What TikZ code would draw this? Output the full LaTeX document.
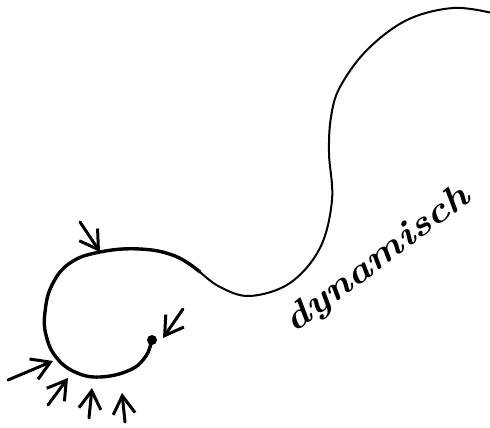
\documentclass[tikz,border=0pt]{standalone}
\usetikzlibrary{arrows.meta}
\begin{document}
\begin{tikzpicture}[x=1pt,y=-1pt,
  curve/.style={line width=2pt, line cap=round, line join=round},
  loopcurve/.style={line width=3.4pt, line cap=round, line join=round},
  force/.style={line width=3pt, line cap=round, -{Straight Barb[length=18pt,width=22pt,line width=3pt]}},
  word/.style={font=\bfseries\itshape\fontsize{36}{36}\selectfont, rotate=37, xscale=1.16, inner sep=0pt}]
\useasboundingbox (0,0) rectangle (490,428);
% loop part
\draw[loopcurve] plot[smooth, tension=0.7] coordinates {(151,342) (146,356) (130,370) (100,377) (75,372) (56,357) (46,335) (45,312) (52,285) (70,263) (100,252) (140,249) (175,256) (200,272)};
% long tail
\draw[curve] plot[smooth, tension=0.6] coordinates {(200,272) (220,287) (250,296) (290,283) (320,248) (332,200) (329,153) (331,117) (340,87) (367,50) (407,20) (453,8) (492,13)};
% dot
\fill (152,340) circle (5);
% arrows
\coordinate (a1s) at (80,222);  \coordinate (a1e) at (100,252);
\coordinate (a2s) at (183,309); \coordinate (a2e) at (163,338);
\coordinate (a3s) at (8,380);   \coordinate (a3e) at (53,361);
\coordinate (a4s) at (48,405);  \coordinate (a4e) at (68,378);
\coordinate (a5s) at (89,418);  \coordinate (a5e) at (92,388);
\coordinate (a6s) at (125,422); \coordinate (a6e) at (122,393);
\draw[force] (a1s) -- (a1e);
\draw[force] (a2s) -- (a2e);
\draw[force] (a3s) -- (a3e);
\draw[force] (a4s) -- (a4e);
\draw[force] (a5s) -- (a5e);
\draw[force] (a6s) -- (a6e);
% label
\node[word] (lbl) at (378,260) {dynamisch};
\end{tikzpicture}
\end{document}
